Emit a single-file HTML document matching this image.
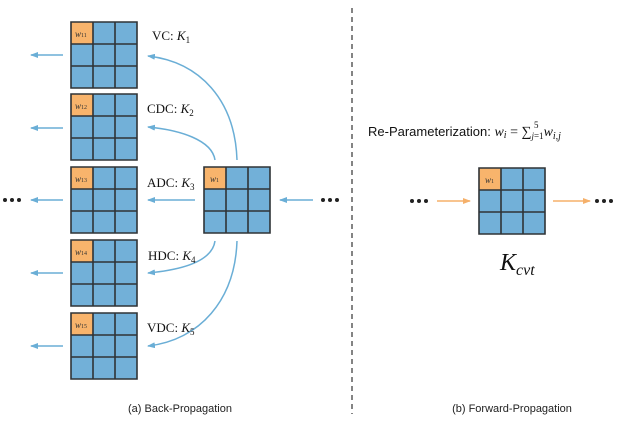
<!DOCTYPE html>
<html><head><style>body{margin:0;background:#fff}svg{display:block}</style></head><body>
<svg width="626" height="434" viewBox="0 0 626 434" xmlns="http://www.w3.org/2000/svg" font-family="Liberation Serif, serif">
<defs>
<marker id="ab" markerWidth="8" markerHeight="6" refX="7" refY="3" orient="auto" markerUnits="userSpaceOnUse"><path d="M0,0 L8,3 L0,6 Z" fill="#6aaed6"/></marker>
<marker id="ao" markerWidth="8" markerHeight="6" refX="7" refY="3" orient="auto" markerUnits="userSpaceOnUse"><path d="M0,0 L8,3 L0,6 Z" fill="#f5b06a"/></marker>
<g id="grid">
<rect x="0" y="0" width="66" height="66" fill="#72b0d8"/>
<rect x="0" y="0" width="22" height="22" fill="#f8b46c"/>
<path d="M0,0H66V66H0Z M22,0V66 M44,0V66 M0,22H66 M0,44H66" fill="none" stroke="#2f3336" stroke-width="1.6"/>
</g>
</defs>
<g font-family="Liberation Serif, serif" font-style="italic" font-size="9" fill="#333">
<use href="#grid" x="71" y="22"/><text x="75" y="37">w<tspan font-size="6" font-style="normal">11</tspan></text>
<use href="#grid" x="71" y="94"/><text x="75" y="109">w<tspan font-size="6" font-style="normal">12</tspan></text>
<use href="#grid" x="71" y="167"/><text x="75" y="182">w<tspan font-size="6" font-style="normal">13</tspan></text>
<use href="#grid" x="71" y="240"/><text x="75" y="255">w<tspan font-size="6" font-style="normal">14</tspan></text>
<use href="#grid" x="71" y="313"/><text x="75" y="328">w<tspan font-size="6" font-style="normal">15</tspan></text>
<use href="#grid" x="204" y="167"/><text x="210" y="182">w<tspan font-size="6" font-style="normal">1</tspan></text>
<use href="#grid" x="479" y="168"/><text x="485" y="183">w<tspan font-size="6" font-style="normal">1</tspan></text>
</g>
<g stroke="#6aaed6" stroke-width="1.5" fill="none">
<line x1="63" y1="55" x2="31" y2="55" marker-end="url(#ab)"/>
<line x1="63" y1="128" x2="31" y2="128" marker-end="url(#ab)"/>
<line x1="63" y1="200" x2="31" y2="200" marker-end="url(#ab)"/>
<line x1="63" y1="273" x2="31" y2="273" marker-end="url(#ab)"/>
<line x1="63" y1="346" x2="31" y2="346" marker-end="url(#ab)"/>
<line x1="195" y1="200" x2="148" y2="200" marker-end="url(#ab)"/>
<line x1="313" y1="200" x2="280" y2="200" marker-end="url(#ab)"/>
<path d="M237,160 C235,100 200,62 148,56" marker-end="url(#ab)"/>
<path d="M215,160 C212,140 180,130 148,127" marker-end="url(#ab)"/>
<path d="M215,241 C212,262 180,270 148,273" marker-end="url(#ab)"/>
<path d="M237,241 C235,300 200,340 148,346" marker-end="url(#ab)"/>
</g>
<g stroke="#f5b06a" stroke-width="1.5" fill="none">
<line x1="437" y1="201" x2="470" y2="201" marker-end="url(#ao)"/>
<line x1="553" y1="201" x2="590" y2="201" marker-end="url(#ao)"/>
</g>
<g fill="#222">
<circle cx="5" cy="200" r="2"/><circle cx="12" cy="200" r="2"/><circle cx="19" cy="200" r="2"/>
<circle cx="323" cy="200" r="2"/><circle cx="330" cy="200" r="2"/><circle cx="337" cy="200" r="2"/>
<circle cx="412" cy="201" r="2"/><circle cx="419" cy="201" r="2"/><circle cx="426" cy="201" r="2"/>
<circle cx="597" cy="201" r="2"/><circle cx="604" cy="201" r="2"/><circle cx="611" cy="201" r="2"/>
</g>
<line x1="352" y1="8" x2="352" y2="414" stroke="#333" stroke-width="1.2" stroke-dasharray="5,4"/>
<g font-size="13" fill="#111">
<text x="152" y="40">VC: <tspan font-style="italic">K</tspan><tspan font-size="9" dy="3">1</tspan></text>
<text x="147" y="113">CDC: <tspan font-style="italic">K</tspan><tspan font-size="9" dy="3">2</tspan></text>
<text x="147" y="187">ADC: <tspan font-style="italic">K</tspan><tspan font-size="9" dy="3">3</tspan></text>
<text x="148" y="260">HDC: <tspan font-style="italic">K</tspan><tspan font-size="9" dy="3">4</tspan></text>
<text x="147" y="332">VDC: <tspan font-style="italic">K</tspan><tspan font-size="9" dy="3">5</tspan></text>
</g>
<text x="368" y="136" font-size="14" fill="#111"><tspan font-family="Liberation Sans, sans-serif" font-size="13">Re-Parameterization: </tspan><tspan font-style="italic">w<tspan font-size="10" dy="2">i</tspan></tspan><tspan dy="-2"> = ∑</tspan><tspan font-size="9" font-style="italic" dy="3">j</tspan><tspan font-size="9" dy="0">=1</tspan><tspan font-style="italic" dy="-3">w</tspan><tspan font-size="10" font-style="italic" dy="3">i,j</tspan></text>
<text x="534" y="128" font-size="9" fill="#111">5</text>
<text x="500" y="270" font-size="24" font-style="italic" fill="#111">K<tspan font-size="16" dy="5">cvt</tspan></text>
<g font-family="Liberation Sans, sans-serif" font-size="11" fill="#222" text-anchor="middle">
<text x="180" y="412">(a) Back-Propagation</text>
<text x="512" y="412">(b) Forward-Propagation</text>
</g>
</svg>
</body></html>
